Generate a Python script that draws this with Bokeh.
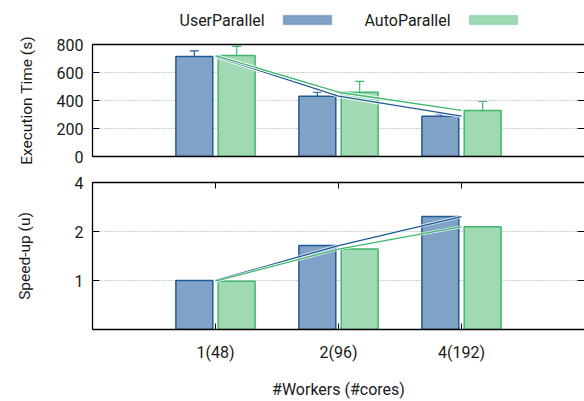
from bokeh.plotting import figure
from bokeh.layouts import column
from bokeh.models import (Range1d, FixedTicker, LinearAxis, LogAxis, Whisker, Grid,
                          ColumnDataSource, Label, BoxAnnotation, TeeHead)
from bokeh.embed import file_html
from bokeh.resources import INLINE

# ---------------- data ----------------
categories = ["1(48)", "2(96)", "4(192)"]
series = ["UserParallel", "AutoParallel"]
user_time = [714, 431, 288]
user_err_hi = [755, 459, 305]
user_err_lo = [698, 421, 279]
auto_time = [721, 459, 329]
auto_err_hi = [786, 536, 393]
auto_err_lo = [674, 428, 286]
user_speedup = [1.0, 1.64, 2.47]
auto_speedup = [0.99, 1.56, 2.14]
time_ticks = [0, 200, 400, 600, 800]
time_grid = [200, 400, 600]
speedup_ticks = [1, 2, 4]
speedup_grid = [1, 2]

# ---------------- style ----------------
FONT = "Roboto"
FS = "16px"
FS_AX = "15.5px"
TXT = "#1a1a1a"
BLUE_FILL, BLUE_LINE = "#7fa2c6", "#1f5a96"
GREEN_FILL, GREEN_LINE = "#9fdab5", "#3fb86e"
GRID_COLOR = "#9a9a9a"
BAR_W = 0.30
OFF = 0.172
W = 584
LEFT = 92

xc = [i + 1 for i in range(len(categories))]
x_user = [x - OFF for x in xc]
x_auto = [x + OFF for x in xc]

src = ColumnDataSource(dict(
    xc=xc, xu=x_user, xa=x_auto,
    ut=user_time, uhi=user_err_hi, ulo=user_err_lo,
    at=auto_time, ahi=auto_err_hi, alo=auto_err_lo,
    us=user_speedup, as_=auto_speedup,
))


def style_axis(ax, labels=True):
    ax.major_label_text_font = FONT
    ax.major_label_text_font_size = FS if labels else "0px"
    ax.major_label_text_color = TXT
    ax.axis_label_text_font = FONT
    ax.axis_label_text_font_size = FS_AX
    ax.axis_label_text_font_style = "normal"
    ax.axis_label_text_color = TXT
    ax.minor_tick_line_color = None
    ax.major_tick_out = 0
    ax.major_tick_in = 7
    ax.major_tick_line_color = "black"
    ax.major_tick_line_width = 1
    ax.axis_line_color = "black"
    ax.axis_line_width = 1.3


def blank_axis(cls, ticks, color="black"):
    ax = cls(ticker=FixedTicker(ticks=ticks))
    style_axis(ax, labels=False)
    ax.axis_line_color = color
    ax.major_label_standoff = 0
    ax.major_label_overrides = {t: "" for t in ticks}
    return ax


def bare_fig(**kw):
    f = figure(output_backend="svg", toolbar_location=None,
               x_axis_location=None, y_axis_location=None, **kw)
    f.outline_line_color = None
    f.xgrid.visible = False
    f.ygrid.visible = False
    f.border_fill_color = "white"
    f.background_fill_color = "white"
    return f


# ---------------- legend strip (text then swatch, gnuplot style) ----------------
# positions are in screen px relative to the strip's frame (aligned with the plot frames)
LEG_H = 29
pl = bare_fig(width=W, height=LEG_H, x_range=Range1d(0, 1), y_range=Range1d(0, 1),
              min_border_left=0, min_border_right=0, min_border_top=0, min_border_bottom=0)
leg = [(series[0], 87, BLUE_FILL, BLUE_LINE, 191), (series[1], 272, GREEN_FILL, GREEN_LINE, 377)]
for name, tx, fc, lc, sx in leg:
    pl.add_layout(Label(x=tx, y=9.5, x_units="screen", y_units="screen", text=name,
                        text_font=FONT, text_font_size=FS, text_color=TXT,
                        text_baseline="middle", text_align="left"))
    pl.add_layout(BoxAnnotation(left=sx, right=sx + 48, bottom=5, top=14,
                                left_units="screen", right_units="screen",
                                top_units="screen", bottom_units="screen",
                                fill_color=fc, fill_alpha=1, line_color=lc, line_width=1.5))

# ---------------- top figure: execution time ----------------
p1 = bare_fig(width=W, height=142, x_range=Range1d(0, 4), y_range=Range1d(0, 800),
              min_border_left=LEFT, min_border_right=0, min_border_top=15, min_border_bottom=15)

yl = LinearAxis(ticker=FixedTicker(ticks=time_ticks), axis_label="Execution Time (s)")
style_axis(yl)
yl.major_label_standoff = 9
yl.axis_label_standoff = 18
p1.add_layout(yl, "left")
p1.add_layout(blank_axis(LinearAxis, time_ticks, color=None), "right")
p1.add_layout(blank_axis(LinearAxis, []), "below")
p1.add_layout(blank_axis(LinearAxis, []), "above")

p1.add_layout(Grid(dimension=1, ticker=FixedTicker(ticks=time_grid), grid_line_color=GRID_COLOR,
                   grid_line_dash="1 2", grid_line_width=1))

p1.vbar(x="xu", top="ut", bottom=0, width=BAR_W, source=src,
        fill_color=BLUE_FILL, line_color=BLUE_LINE, line_width=1.5)
p1.vbar(x="xa", top="at", bottom=0, width=BAR_W, source=src,
        fill_color=GREEN_FILL, line_color=GREEN_LINE, line_width=1.5)

for col, c in (("ut", BLUE_LINE), ("at", GREEN_LINE)):
    p1.line(x="xc", y=col, source=src, line_color="white", line_width=3.5, line_alpha=0.8)
    p1.line(x="xc", y=col, source=src, line_color=c, line_width=1.3)

for base, hi, lo, c in (("xu", "uhi", "ulo", BLUE_LINE), ("xa", "ahi", "alo", GREEN_LINE)):
    p1.add_layout(Whisker(base=base, upper=hi, lower=lo, source=src,
                          line_color=c, line_width=1.2,
                          upper_head=TeeHead(size=9, line_color=c, line_width=1.2),
                          lower_head=TeeHead(size=9, line_color=c, line_width=1.2)))

# ---------------- bottom figure: speed-up ----------------
p2 = bare_fig(width=W, height=230, x_range=Range1d(0, 4), y_range=Range1d(0.5, 4),
              y_axis_type="log",
              min_border_left=LEFT, min_border_right=0, min_border_top=11, min_border_bottom=69)
p2.add_layout(Grid(dimension=1, ticker=FixedTicker(ticks=speedup_grid), grid_line_color=GRID_COLOR,
                   grid_line_dash="1 2", grid_line_width=1))

yl2 = LogAxis(ticker=FixedTicker(ticks=speedup_ticks), axis_label="Speed-up (u)")
style_axis(yl2)
yl2.major_label_overrides = {t: str(t) for t in speedup_ticks}
yl2.major_label_standoff = 9
yl2.axis_label_standoff = 38
p2.add_layout(yl2, "left")
p2.add_layout(blank_axis(LogAxis, speedup_ticks, color=None), "right")

xb2 = LinearAxis(ticker=FixedTicker(ticks=xc), axis_label="#Workers (#cores)")
style_axis(xb2)
xb2.axis_label_text_font_size = FS
xb2.major_tick_in = 6
xb2.major_label_overrides = {x: c for x, c in zip(xc, categories)}
xb2.major_label_standoff = 13
xb2.axis_label_standoff = 15
p2.add_layout(xb2, "below")

xt2 = blank_axis(LinearAxis, xc)
xt2.major_tick_in = 6
p2.add_layout(xt2, "above")

p2.vbar(x="xu", top="us", bottom=0.5, width=BAR_W, source=src,
        fill_color=BLUE_FILL, line_color=BLUE_LINE, line_width=1.5)
p2.vbar(x="xa", top="as_", bottom=0.5, width=BAR_W, source=src,
        fill_color=GREEN_FILL, line_color=GREEN_LINE, line_width=1.5)
for col, c in (("us", BLUE_LINE), ("as_", GREEN_LINE)):
    p2.line(x="xc", y=col, source=src, line_color="white", line_width=3.0, line_alpha=0.7)
    p2.line(x="xc", y=col, source=src, line_color=c, line_width=1.3)

layout = column(pl, p1, p2, spacing=0)
open("out.html", "w").write(file_html(layout, INLINE))
